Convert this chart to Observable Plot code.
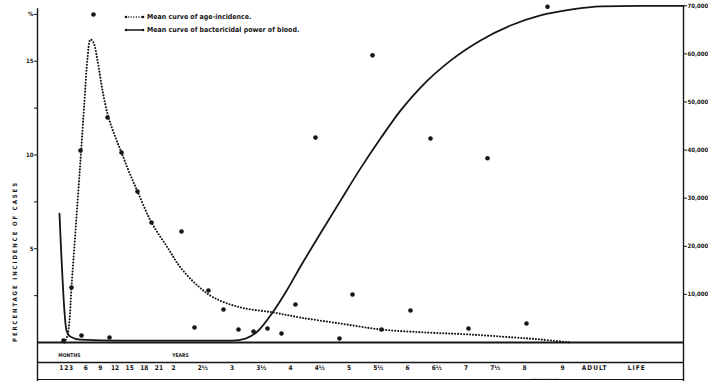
<!DOCTYPE html>
<html>
<head>
<meta charset="utf-8">
<script src="https://cdn.jsdelivr.net/npm/d3@7"></script>
<script src="https://cdn.jsdelivr.net/npm/@observablehq/plot@0.6"></script>
<style>
  html, body { margin: 0; padding: 0; background: #fff; overflow: hidden; }
  #chart svg { display: block; }
</style>
</head>
<body>
<div id="chart"></div>
<script>
// Mean curve of age-incidence: age in years, percentage of cases
const incidenceAge = [0.137, 0.188, 0.222, 0.256, 0.325, 0.410, 0.479, 0.530, 0.581, 0.632, 0.701, 0.786, 0.889, 1.009, 1.111, 1.231, 1.385, 1.624, 1.897, 2.120, 2.410, 2.684, 3.145, 3.709, 4.171, 4.855, 5.556, 6.342, 7.043, 7.812, 8.274, 8.786];
const incidencePct = [0, 0.37, 1.17, 2.93, 5.97, 9.71, 12.91, 15.15, 16.16, 16.0, 15.04, 13.44, 12.0, 10.93, 10.13, 9.17, 8.05, 6.4, 5.07, 4.0, 3.04, 2.4, 1.87, 1.6, 1.33, 1.01, 0.69, 0.53, 0.43, 0.27, 0.16, 0];

// Mean curve of bactericidal power of blood: age in years, power (right-hand scale units)
const powerAge = [0.051, 0.171, 0.239, 0.410, 1.094, 2.120, 3.009, 3.231, 3.453, 3.692, 3.915, 4.171, 4.513, 4.855, 5.197, 5.538, 5.880, 6.222, 6.735, 7.248, 7.761, 8.274, 8.786, 9.299, 9.983, 10.718];
const powerValue = [2.68, 0.25, 0.12, 0.06, 0.04, 0.04, 0.04, 0.08, 0.25, 0.62, 1.04, 1.58, 2.27, 2.95, 3.62, 4.24, 4.82, 5.30, 5.86, 6.28, 6.59, 6.80, 6.92, 6.99, 7.0, 7.0];

// Observed incidence by age group
const casesAge = [0.632, 0.410, 0.256, 0.120, 0.427, 0.906, 0.872, 1.111, 1.385, 1.624, 2.137, 2.598, 2.359, 2.855, 3.111, 3.368, 3.607, 3.846, 4.085, 4.838, 5.060, 5.556, 6.051, 7.043, 8.034];
const casesPct = [17.49, 10.24, 2.93, 0.11, 0.37, 0.27, 12.0, 10.13, 8.05, 6.4, 5.92, 2.77, 0.8, 1.76, 0.69, 0.59, 0.75, 0.48, 2.03, 0.21, 2.56, 0.69, 1.71, 0.75, 1.01];

// Observed bactericidal power
const bloodAge = [4.427, 5.402, 6.393, 7.368, 8.393];
const bloodPower = [4.26, 5.97, 4.24, 3.83, 6.98];

// Age axis
const ageTicks = [1/12, 2/12, 3/12, 0.5, 0.75, 1, 1.25, 1.5, 1.75, 2, 2.5, 3, 3.5, 4, 4.5, 5, 5.5, 6, 6.5, 7, 7.5, 8, 8.65];
const ageTickLabels = ["1", "2", "3", "6", "9", "12", "15", "18", "21", "2", "2½", "3", "3½", "4", "4½", "5", "5½", "6", "6½", "7", "7½", "8", "9"];
const ageGroupAt = [0.22, 2.12];
const ageGroupLabels = ["MONTHS", "YEARS"];
const adultAt = [9.2, 9.92];
const adultLabels = ["ADULT", "LIFE"];

// Left scale: percentage incidence
const pctTicks = [2.5, 5, 7.5, 10, 12.5, 15, 17.5];
const pctTickLabels = ["", "5", "", "10", "", "15", "%"];

// Right scale: bactericidal power
const powerTicks = [1, 2, 3, 4, 5, 6, 7];
const powerTickLabels = ["10,000", "20,000", "30,000", "40,000", "50,000", "60,000", "70,000"];

const yTitle = "PERCENTAGE INCIDENCE OF CASES";

const W = 708, H = 381;
const pxPerPct = 18.75, pxPerYear = 58.5, pxPerPower = 48.1;
const mL = 37, mR = 25, mT = 5, zeroY = 342, zeroX = 56;
const xDomain = [(mL - zeroX) / pxPerYear, (W - mR - zeroX) / pxPerYear];
const yDomain = [(zeroY - H) / pxPerPct, (zeroY - mT) / pxPerPct];
const k = pxPerPower / pxPerPct; // power units -> percentage units
const rowLine = -20 / pxPerPct, bottomLine = -37 / pxPerPct;
const titleAt = {x: (15 - zeroX) / pxPerYear, y: (zeroY - 261) / pxPerPct};

const incidence = incidenceAge.map((a, i) => ({age: a, v: incidencePct[i]}));
const power = powerAge.map((a, i) => ({age: a, v: powerValue[i] * k}));
const cases = casesAge.map((a, i) => ({age: a, v: casesPct[i]}));
const blood = bloodAge.map((a, i) => ({age: a, v: bloodPower[i] * k}));

const ink = "#161616";
const font = "'DejaVu Sans Condensed', 'DejaVu Sans', sans-serif";

const chart = Plot.plot({
  width: W, height: H,
  marginLeft: mL, marginRight: mR, marginTop: mT, marginBottom: 0,
  style: {fontFamily: font, color: ink, background: "#fff"},
  x: {domain: xDomain, axis: null},
  y: {domain: yDomain, axis: null},
  marks: [
    // frame lines
    Plot.ruleY([0], {stroke: ink, strokeWidth: 2}),
    Plot.ruleY([rowLine], {stroke: ink, strokeWidth: 1.6}),
    Plot.ruleY([bottomLine], {stroke: ink, strokeWidth: 1}),
    Plot.ruleX([xDomain[0]], {y1: yDomain[0], y2: 17.8, stroke: ink, strokeWidth: 1.4}),
    Plot.ruleX([xDomain[1]], {y1: yDomain[0], y2: yDomain[1], stroke: ink, strokeWidth: 1.4}),
    // axes
    Plot.axisY({anchor: "left", ticks: pctTicks, tickFormat: (d, i) => pctTickLabels[i], tickSize: 3, tickPadding: 1, fontSize: 6, fontWeight: "bold", label: null, stroke: ink}),
    Plot.axisY({anchor: "right", ticks: powerTicks.map(v => v * k), tickFormat: (d, i) => powerTickLabels[i], tickSize: 3, tickPadding: 1, fontSize: 6, fontWeight: "bold", label: null, stroke: ink}),
    Plot.text([yTitle], {x: () => titleAt.x, y: () => titleAt.y, rotate: -90, fontSize: 6, fontWeight: "bold", fill: ink}),
    Plot.text(ageTicks, {x: d => d, frameAnchor: "bottom", dy: -12, text: (d, i) => ageTickLabels[i], fontSize: 6.5, fontWeight: "bold", fill: ink}),
    Plot.text(ageGroupAt, {x: d => d, frameAnchor: "bottom", dy: -25, text: (d, i) => ageGroupLabels[i], fontSize: 5, fontWeight: "bold", fill: ink}),
    Plot.text(adultAt, {x: d => d, frameAnchor: "bottom", dy: -12, text: (d, i) => adultLabels[i], fontSize: 6.5, fontWeight: "bold", fill: ink}),
    Plot.link([0], {x1: 8.1, x2: 8.58, y1: () => rowLine - 0.9, y2: () => rowLine - 0.9, stroke: ink, strokeWidth: 1.3, strokeDasharray: "1 1.3"}),
    // curves
    Plot.line(incidence, {x: "age", y: "v", curve: "catmull-rom", stroke: ink, strokeWidth: 2.1, strokeDasharray: "0 3", strokeLinecap: "round"}),
    Plot.line(power, {x: "age", y: "v", curve: "monotone-x", stroke: ink, strokeWidth: 1.8}),
    // observations
    Plot.dot(cases, {x: "age", y: "v", r: 2.3, fill: ink, stroke: "none"}),
    Plot.dot(blood, {x: "age", y: "v", r: 2.3, fill: ink, stroke: "none"})
  ]
});

document.getElementById("chart").appendChild(chart);

const svg = d3.select(chart);

// widely spaced capitals for the axis title and "ADULT LIFE"
svg.selectAll("text")
  .filter(function() { return this.textContent === yTitle; })
  .style("letter-spacing", "1.9px");
svg.selectAll("text")
  .filter(function() { return adultLabels.includes(this.textContent); })
  .style("letter-spacing", "1px");

// key, top left inside the plot
const key = svg.append("g")
  .attr("font-family", font).attr("font-size", 7).attr("font-weight", "bold")
  .attr("fill", ink).attr("text-anchor", "start");
const keyRows = [
  {text: "Mean curve of age-incidence.", dotted: true, y: 17},
  {text: "Mean curve of bactericidal power of blood.", dotted: false, y: 30}
];
keyRows.forEach(r => {
  key.append("line").attr("x1", 126).attr("x2", 143).attr("y1", r.y).attr("y2", r.y)
    .attr("stroke", ink).attr("stroke-width", r.dotted ? 1.5 : 1.4)
    .attr("stroke-linecap", "round").attr("stroke-dasharray", r.dotted ? "0 2.6" : null);
  key.append("circle").attr("cx", 126).attr("cy", r.y).attr("r", 1.3).attr("fill", ink);
  key.append("circle").attr("cx", 143).attr("cy", r.y).attr("r", 1.3).attr("fill", ink);
  key.append("text").attr("x", 147).attr("y", r.y).attr("dy", "0.32em").text(r.text);
});
</script>
</body>
</html>
